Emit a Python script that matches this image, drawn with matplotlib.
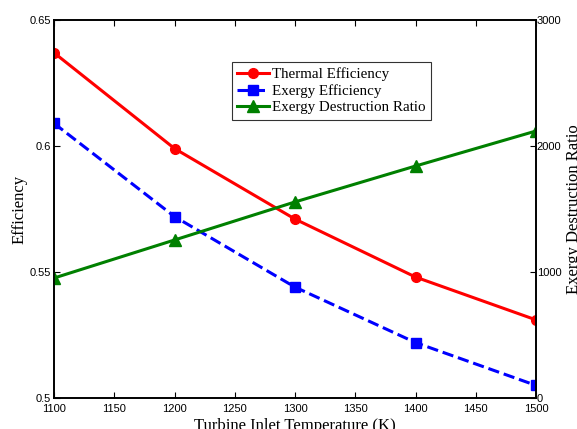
import matplotlib
matplotlib.use("Agg")
import matplotlib.pyplot as plt

# Turbine inlet temperature sweep
temp = [1100, 1200, 1300, 1400, 1500]
thermal_eff = [0.637, 0.599, 0.571, 0.548, 0.531]
exergy_eff = [0.609, 0.572, 0.544, 0.522, 0.505]
destruction_ratio = [952, 1254, 1556, 1841, 2119]

W, H = 577, 429
fig = plt.figure(figsize=(W / 100, H / 100), dpi=100)
ax = fig.add_axes([54 / W, 1 - 398 / H, (536 - 54) / W, (398 - 20) / H])
ax2 = ax.twinx()

l1, = ax.plot(temp, thermal_eff, '-o', color='red', lw=2.2, ms=7,
              label='Thermal Efficiency')
l2, = ax.plot(temp, exergy_eff, '--s', color='blue', lw=2.2, ms=6.5,
              label='Exergy Efficiency')
l3, = ax2.plot(temp, destruction_ratio, '-^', color='green', lw=2.2, ms=8,
               label='Exergy Destruction Ratio')

ax.set_xlim(1100, 1500)
ax.set_ylim(0.5, 0.65)
ax2.set_ylim(0, 3000)
ax.set_xticks(range(1100, 1501, 50))
ax.set_yticks([0.5, 0.55, 0.6, 0.65])
ax.set_yticklabels(['0.5', '0.55', '0.6', '0.65'])
ax2.set_yticks([0, 1000, 2000, 3000])

for a in (ax, ax2):
    for lab in a.get_xticklabels() + a.get_yticklabels():
        lab.set_fontfamily('Liberation Sans')
        lab.set_fontsize(8)
    a.tick_params(direction='in', length=4, width=0.8, pad=2)
    for s in a.spines.values():
        s.set_linewidth(1.2)
ax.tick_params(axis='x', pad=4)
ax.tick_params(top=True, right=False)
ax2.tick_params(right=True, left=False, pad=0.5)

serif = 'Liberation Serif'
ax.set_xlabel('Turbine Inlet Temperature (K)', family=serif, fontsize=12)
ax.xaxis.set_label_coords(0.5, -20 / 378)
ax.set_ylabel('Efficiency', family=serif, fontsize=12)
ax.yaxis.set_label_coords(-(54 - 28) / 482, 0.5)
ax2.set_ylabel('Exergy Destruction Ratio', family=serif, fontsize=12)
ax2.yaxis.set_label_coords((566 - 54) / 482, 0.5)

leg = ax.legend(handles=[l1, l2, l3], loc='upper left',
                bbox_to_anchor=(232 / W, 1 - 62 / H),
                bbox_transform=fig.transFigure,
                prop={'family': serif, 'size': 10.8},
                frameon=True, fancybox=False, handlelength=2.1,
                handletextpad=0.25, borderpad=0.35, labelspacing=0.2,
                borderaxespad=0)
leg.get_frame().set_edgecolor('black')
leg.get_frame().set_linewidth(0.8)

fig.savefig('out.png', dpi=100)
